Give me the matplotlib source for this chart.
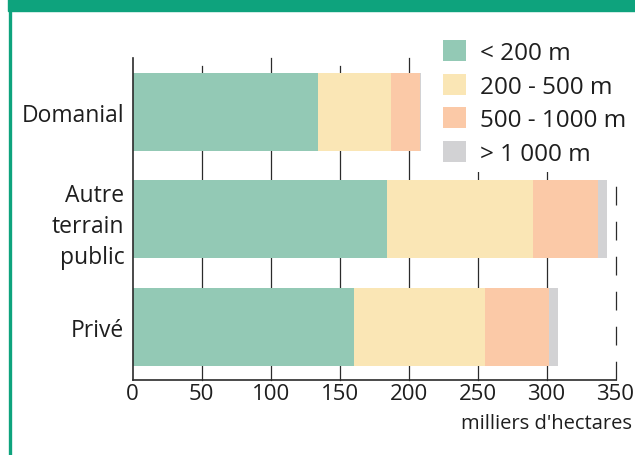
import numpy as np
import matplotlib.pyplot as plt
from matplotlib.patches import Rectangle
from matplotlib.lines import Line2D

categories = ['Domanial', 'Autre\nterrain\npublic', 'Privé']
series_names = ['< 200 m', '200 - 500 m', '500 - 1000 m', '> 1 000 m']
# milliers d'hectares par tranche d'altitude
low     = [134.4, 184.7, 160.1]
mid     = [52.5, 105.3, 95]
high    = [21.1, 47.6, 46.6]
top     = [1.2, 6, 6.9]
xticks  = [0, 50, 100, 150, 200, 250, 300, 350]

colors = ['#93c9b5', '#fae6b5', '#fbc9a7', '#d2d2d4']
GREEN = '#0ea37d'
INK = '#1e1e1e'

plt.rcParams['font.family'] = ['Open Sans', 'DejaVu Sans']

W, H = 635, 456
fig = plt.figure(figsize=(W / 100, H / 100), dpi=100)
ax = fig.add_axes([132.7 / W, 1 - 381.3 / H, (615.5 - 132.7) / W, 322 / H])

# frame: green header band + left border
fig.patches.append(Rectangle((8 / W, 1 - 12 / H), 1, 12 / H, transform=fig.transFigure,
                             color=GREEN, zorder=0))
fig.lines.append(Line2D([10 / W, 10 / W], [0, 1 - 12 / H], transform=fig.transFigure,
                        color=GREEN, lw=2.4, zorder=0))

y = np.arange(len(categories))
series = [low, mid, high, top]
left = np.zeros(len(categories))
for vals, name, c in zip(series, series_names, colors):
    ax.barh(y, vals, left=left, height=0.726, color=c, label=name, zorder=3)
    left += np.array(vals)

# vertical gridlines (the 50 and 150 ones stop a bit lower, 350 is dashed)
for t in xticks[1:]:
    ls = (0, (15, 13)) if t == 350 else '-'
    ymax = 0.975 if t in (50, 150) else 1
    ax.axvline(t, ymax=ymax, color='#2b2b2b', lw=0.9, ls=ls, zorder=1,
               clip_on=False)

ax.set_xlim(0, 350)
ax.set_ylim(2.5, -0.5)
ax.set_xticks(xticks)
ax.set_xticklabels([str(t) for t in xticks], fontsize=16, color=INK)
ax.set_yticks(y)
ax.set_yticklabels(categories, fontsize=16.5, color=INK, linespacing=1.38)
ax.tick_params(axis='both', length=0)
ax.tick_params(axis='x', pad=2)
ax.tick_params(axis='y', pad=6)

for s in ['top', 'right']:
    ax.spines[s].set_visible(False)
for s in ['left', 'bottom']:
    ax.spines[s].set_color('#2b2b2b')
    ax.spines[s].set_linewidth(1.2)
    ax.spines[s].set_zorder(4)

leg = ax.legend(loc='upper left', bbox_to_anchor=(437 / W, 1 - 35 / H),
                bbox_transform=fig.transFigure, frameon=True, fontsize=17.5,
                handlelength=0.95, handleheight=0.95, handletextpad=0.55,
                labelspacing=0.36, borderpad=0.25, borderaxespad=0)
leg.get_frame().set_facecolor('white')
leg.get_frame().set_edgecolor('none')
leg.get_frame().set_alpha(1)
leg.set_zorder(5)
for txt in leg.get_texts():
    txt.set_color(INK)

fig.text(632 / W, 1 - 424 / H, "milliers d'hectares", ha='right', va='center',
         fontsize=14.5, color=INK)

fig.savefig('out.png', dpi=100)
